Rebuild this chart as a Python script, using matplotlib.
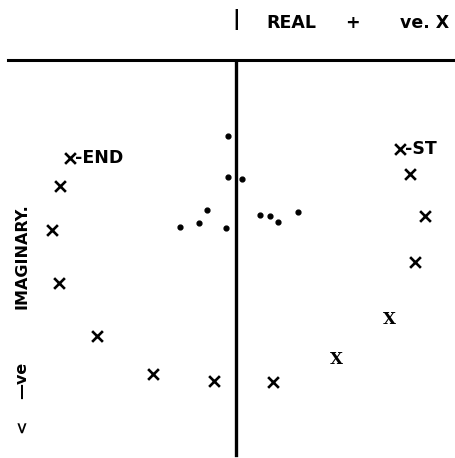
import matplotlib.pyplot as plt

# positions (page units, y grows downwards)
cross_x = [70, 60, 52, 59, 97, 153, 214, 273, 415, 425, 410, 400]
cross_y = [158, 186, 230, 283, 336, 374, 381, 382, 262, 216, 174, 149]

# the two crosses drawn in a different (serif) character
serif_x = [336, 389]
serif_y = [359, 319]

dot_x = [228, 228, 207, 199, 180, 226, 242, 260, 270, 278, 298]
dot_y = [136, 177, 210, 223, 227, 228, 179, 215, 216, 222, 212]

W, H = 455, 458
axis_x = 236
axis_y = 60

fig = plt.figure(figsize=(4.55, 4.58), dpi=100)
ax = fig.add_axes([0, 0, 1, 1])
ax.set_xlim(0, W)
ax.set_ylim(H, 0)
ax.axis('off')

# axes of the complex plane
ax.plot([8, W], [axis_y, axis_y], color='black', lw=2.2)
ax.plot([axis_x, axis_x], [axis_y + 2, H - 3], color='black', lw=2.4)

ax.scatter(cross_x, cross_y, marker='x', s=60, color='black', linewidths=1.9)
for x, y in zip(serif_x, serif_y):
    ax.text(x, y, 'X', family='DejaVu Serif', fontweight='bold', fontsize=12,
            ha='center', va='center')
ax.scatter(dot_x, dot_y, s=12, color='black')

font = 'DejaVu Sans'
txt = dict(family=font, fontsize=12.5, fontweight='bold')
ax.text(75, 158, '-END', ha='left', va='center', **txt)
ax.text(405, 149, '-ST', ha='left', va='center', **txt)

ax.text(axis_x, 20, '|', family=font, fontsize=15, fontweight='bold',
        ha='center', va='center')
ax.text(266, 23, 'REAL', ha='left', va='center', **txt)
ax.text(352, 23, '+', ha='center', va='center', **txt)
ax.text(400, 23, 've. X', ha='left', va='center', **txt)

# vertical label, pieces spaced as in the original
lab = dict(family=font, fontsize=11.5, fontweight='bold', rotation=90,
           ha='center', va='center')
ax.text(22, 256, 'IMAGINARY.', **lab)
ax.text(22, 380, '\u2014ve', **lab)
ax.text(22, 426, '<', **lab)

fig.savefig('out.png', dpi=100)
